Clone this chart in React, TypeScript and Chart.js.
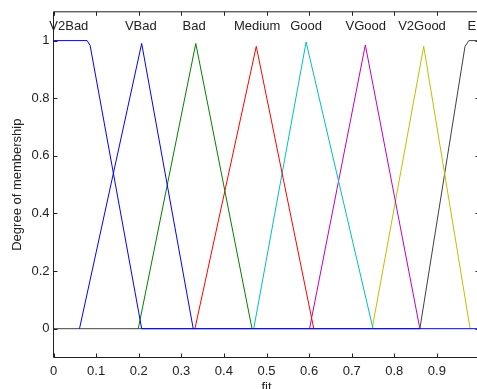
import React, { useEffect, useRef } from "react";
import { Chart, registerables } from "chart.js";

Chart.register(...registerables);

// ---- data ----
const xTicks = [0, 0.1, 0.2, 0.3, 0.4, 0.5, 0.6, 0.7, 0.8, 0.9];
const yTicks = [0, 0.2, 0.4, 0.6, 0.8, 1];

const mfNames = ["V2Bad", "VBad", "Bad", "Medium", "Good", "VGood", "V2Good", "E"];
const labelX = [0.036, 0.205, 0.33, 0.478, 0.593, 0.733, 0.865, 0.982];
const labelY = 1.05;

const v2BadX = [0, 0.079, 0.086, 0.207, 1];
const v2BadY = [1, 1, 0.983, 0, 0];
const vBadX = [0.061, 0.207, 0.328];
const vBadY = [0, 0.99, 0];
const badX = [0.199, 0.334, 0.466];
const badY = [0, 0.99, 0];
const mediumX = [0.332, 0.476, 0.611];
const mediumY = [0, 0.98, 0];
const goodX = [0.47, 0.593, 0.75];
const goodY = [0, 0.995, 0];
const vGoodX = [0.601, 0.732, 0.86];
const vGoodY = [0, 0.985, 0];
const v2GoodX = [0.748, 0.869, 0.978];
const v2GoodY = [0, 0.98, 0];
const eX = [0, 0.86, 0.966, 0.975, 1];
const eY = [0, 0, 0.98, 1, 1];

const seriesX = [v2BadX, vBadX, badX, mediumX, goodX, vGoodX, v2GoodX, eX];
const seriesY = [v2BadY, vBadY, badY, mediumY, goodY, vGoodY, v2GoodY, eY];
const colors = [
  "rgb(0,0,255)",
  "rgb(0,128,0)",
  "rgb(0,128,0)",
  "rgb(255,0,0)",
  "rgb(0,191,191)",
  "rgb(191,0,191)",
  "rgb(191,191,0)",
  "rgb(64,64,64)",
];
// VBad is blue like V2Bad in the reference
colors[1] = "rgb(0,0,255)";

const FONT = "Liberation Sans, Arial, sans-serif";
const TEXT = "#222";
const AXIS = "#222";

const boxPlugin = {
  id: "matlabBox",
  afterDatasetsDraw(chart: any) {
    const { ctx, chartArea } = chart;
    const xs = chart.scales.x;
    const ys = chart.scales.y;
    const { left, right, top, bottom } = chartArea;
    ctx.save();
    ctx.strokeStyle = AXIS;
    ctx.lineWidth = 1;
    ctx.beginPath();
    ctx.rect(left, top, right - left, bottom - top);
    ctx.stroke();
    const tl = 4;
    ctx.beginPath();
    xTicks.forEach((v) => {
      const px = xs.getPixelForValue(v);
      const x = Math.round(px) + 0.5;
      ctx.moveTo(x, bottom);
      ctx.lineTo(x, bottom - tl);
      ctx.moveTo(x, top);
      ctx.lineTo(x, top + tl);
    });
    yTicks.forEach((v) => {
      const py = ys.getPixelForValue(v);
      const y = Math.round(py) + 0.5;
      ctx.moveTo(left, y);
      ctx.lineTo(left + tl, y);
      ctx.moveTo(right, y);
      ctx.lineTo(right - tl, y);
    });
    ctx.stroke();

    ctx.fillStyle = TEXT;
    ctx.font = `13px ${FONT}`;
    ctx.textAlign = "center";
    ctx.textBaseline = "middle";
    mfNames.forEach((n, i) => {
      ctx.fillText(n, xs.getPixelForValue(labelX[i]), ys.getPixelForValue(labelY));
    });
    ctx.restore();
  },
};

export default function App() {
  const ref = useRef<HTMLCanvasElement>(null);
  useEffect(() => {
    const canvas = ref.current;
    if (!canvas) return;
    const datasets = seriesX.map((xs, i) => ({
      label: mfNames[i],
      data: xs.map((x, j) => ({ x, y: seriesY[i][j] })),
      borderColor: colors[i],
      backgroundColor: colors[i],
      borderWidth: 1,
      pointRadius: 0,
      tension: 0,
      fill: false,
    }));
    const chart = new Chart(canvas, {
      type: "line",
      data: { datasets },
      plugins: [boxPlugin],
      options: {
        animation: false,
        responsive: false,
        maintainAspectRatio: false,
        layout: { padding: { top: 10.5, right: 20.5, left: 0, bottom: 0 } },
        plugins: { legend: { display: false }, tooltip: { enabled: false } },
        scales: {
          x: {
            type: "linear",
            min: 0,
            max: 1,
            afterBuildTicks: (s: any) => {
              s.ticks = xTicks.map((v) => ({ value: v }));
            },
            afterFit: (s: any) => {
              s.height = 42.5;
            },
            grid: { display: false, drawTicks: false },
            border: { display: false },
            ticks: {
              color: TEXT,
              font: { family: FONT, size: 13 },
              padding: 6,
              maxRotation: 0,
              autoSkip: false,
              callback: (v: any) => String(Math.round(Number(v) * 10) / 10),
            },
            title: {
              display: true,
              text: "fit",
              color: TEXT,
              font: { family: FONT, size: 13 },
              padding: { top: 0, bottom: 5.2 },
            },
          },
          y: {
            type: "linear",
            min: -0.1,
            max: 1.1,
            afterBuildTicks: (s: any) => {
              s.ticks = yTicks.map((v) => ({ value: v }));
            },
            afterFit: (s: any) => {
              s.width = 53.5;
            },
            grid: { display: false, drawTicks: false },
            border: { display: false },
            ticks: {
              color: TEXT,
              font: { family: FONT, size: 13 },
              padding: 4,
              autoSkip: false,
              callback: (v: any) => String(Math.round(Number(v) * 10) / 10),
            },
            title: {
              display: true,
              text: "Degree of membership",
              color: TEXT,
              font: { family: FONT, size: 13 },
              padding: { top: 9.7, bottom: 0 },
            },
          },
        },
      },
    });
    return () => chart.destroy();
  }, []);

  return (
    <div
      style={{
        position: "fixed",
        left: 0,
        top: 0,
        width: 477,
        height: 389,
        overflow: "hidden",
        background: "#fff",
      }}
    >
      <canvas ref={ref} width={500} height={400} style={{ display: "block", width: 500, height: 400 }} />
    </div>
  );
}
